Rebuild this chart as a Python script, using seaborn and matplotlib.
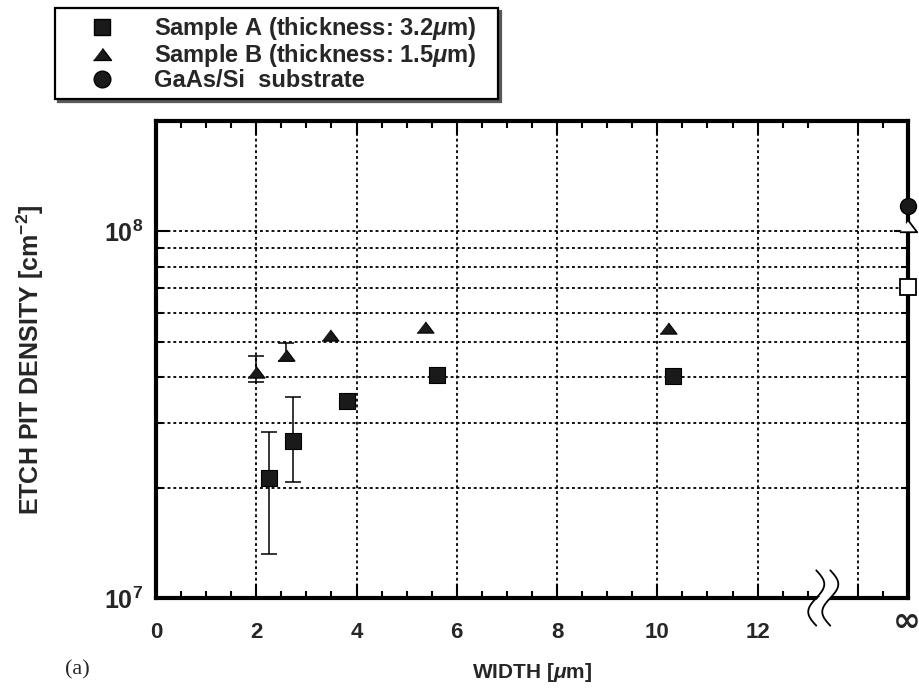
import numpy as np
import pandas as pd
import matplotlib
matplotlib.use("Agg")
import matplotlib.pyplot as plt
import matplotlib.ticker as mticker
from matplotlib.lines import Line2D
import matplotlib.transforms as mtransforms
import seaborn as sns

# ---- data -------------------------------------------------------------
width_a = [2.25, 2.73, 3.80, 5.60, 10.32]          # Sample A stripe width [um]
density_a = [2.13e7, 2.68e7, 3.44e7, 4.07e7, 4.04e7]
err_a_width = [2.25, 2.73]
err_a_center = [2.13e7, 2.68e7]
err_a_low = [1.32e7, 2.07e7]
err_a_high = [2.84e7, 3.53e7]

width_b = [2.00, 2.59, 3.47, 5.37, 10.21]          # Sample B stripe width [um]
density_b = [4.13e7, 4.60e7, 5.21e7, 5.47e7, 5.44e7]
err_b_width = [2.00, 2.59]
err_b_center = [4.13e7, 4.60e7]
err_b_low = [3.88e7, 4.42e7]
err_b_high = [4.56e7, 4.96e7]

inf_pos = 15.0                                      # position standing for infinite width
inf_substrate = 1.17e8                              # GaAs/Si substrate
inf_b = 1.035e8                                     # Sample B, unpatterned
inf_a = 7.06e7                                      # Sample A, unpatterned

x_major = [0, 2, 4, 6, 8, 10, 12]
x_labels = ["0", "2", "4", "6", "8", "10", "12"]
x_grid = [2, 4, 6, 8, 10, 12, 14]

# ---- style ------------------------------------------------------------
sns.set_theme(style="ticks")
plt.rcParams["font.family"] = ["Liberation Sans", "DejaVu Sans"]
plt.rcParams["font.weight"] = "bold"
plt.rcParams["mathtext.fontset"] = "custom"
plt.rcParams["mathtext.rm"] = "Liberation Sans:bold"
plt.rcParams["mathtext.bf"] = "Liberation Sans:bold"
plt.rcParams["mathtext.it"] = "Liberation Sans:bold:italic"

fig = plt.figure(figsize=(9.2, 6.9), dpi=100)
ax = fig.add_axes([156 / 920, 1 - 598 / 690, (908 - 156) / 920, (598 - 121) / 690])

ax.set_yscale("log")
ax.set_xlim(0, 15)
ax.set_ylim(1e7, 2e8)

# grid: dotted, drawn below the marks
grid_kw = dict(color="black", lw=1.3, ls=(0, (1.6, 1.6)), zorder=1)
for gx in x_grid:
    ax.axvline(gx, **grid_kw)
for gy in [2e7, 3e7, 4e7, 5e7, 6e7, 7e7, 8e7, 9e7, 1e8]:
    ax.axhline(gy, **grid_kw)

# error bars
ax.errorbar(err_a_width, err_a_center,
            yerr=[np.subtract(err_a_center, err_a_low), np.subtract(err_a_high, err_a_center)],
            fmt="none", ecolor="black", elinewidth=1.1, capsize=6, capthick=1.1, zorder=3)
ax.errorbar(err_b_width, err_b_center,
            yerr=[np.subtract(err_b_center, err_b_low), np.subtract(err_b_high, err_b_center)],
            fmt="none", ecolor="black", elinewidth=1.1, capsize=6, capthick=1.1, zorder=3)

tri = [(-1.0, -0.66), (1.0, -0.66), (0.0, 0.66)]

df_a = pd.DataFrame({"width": width_a, "density": density_a})
df_b = pd.DataFrame({"width": width_b, "density": density_b})
sns.scatterplot(data=df_a, x="width", y="density", marker="s", s=140,
                color="#1a1a1a", edgecolor="black", linewidth=0.8, ax=ax, zorder=4)
sns.scatterplot(data=df_b, x="width", y="density", marker=tri, s=150,
                color="#1a1a1a", edgecolor="black", linewidth=0.8, ax=ax, zorder=4)

# unpatterned values on the "infinite width" edge
ax.plot([inf_pos], [inf_substrate], marker="o", ms=11.5, mfc="#1a1a1a", mec="black",
        ls="none", clip_on=False, zorder=6)
ax.plot([inf_pos], [inf_b], marker=tri, ms=12.5, mfc="white", mec="black", mew=1.3,
        ls="none", clip_on=False, zorder=6)
ax.plot([inf_pos], [inf_a], marker="s", ms=12, mfc="white", mec="black", mew=1.3,
        ls="none", clip_on=False, zorder=6)

# ---- axes, ticks ------------------------------------------------------
for sp in ax.spines.values():
    sp.set_linewidth(3.0)
    sp.set_color("black")

ax.set_xticks(x_major + [14, inf_pos])
ax.set_xticklabels(x_labels + ["", ""])
minor_x = [v for v in np.arange(0.5, 15, 0.5) if v not in x_major + [14, 13.5]]
ax.xaxis.set_minor_locator(mticker.FixedLocator(minor_x))
ax.yaxis.set_major_locator(mticker.FixedLocator([1e7, 1e8]))
ax.yaxis.set_major_formatter(mticker.FuncFormatter(
    lambda v, p: r"$10^{%d}$" % int(round(np.log10(v)))))
ax.yaxis.set_minor_locator(mticker.FixedLocator([2e7, 3e7, 4e7, 5e7, 6e7, 7e7, 8e7, 9e7, 2e8]))
ax.yaxis.set_minor_formatter(mticker.NullFormatter())

ax.tick_params(axis="both", which="both", direction="in", top=True, right=True,
               color="black", width=1.5)
ax.tick_params(axis="both", which="major", length=10)
ax.tick_params(axis="both", which="minor", length=5)
ax.tick_params(axis="x", which="major", pad=17, labelsize=16)
ax.tick_params(axis="y", which="major", pad=9, labelsize=18)

trans = mtransforms.blended_transform_factory(ax.transData, ax.transAxes)
ax.text(14.97, -0.05, "\u221e", transform=trans, ha="center", va="center",
        fontsize=24, fontweight="bold", family=["DejaVu Sans"], clip_on=False)

ax.set_xlabel(r"WIDTH [$\mu$m]", fontsize=15, fontweight="bold", labelpad=13)
ax.set_ylabel(r"ETCH PIT DENSITY [cm$^{-2}$]", fontsize=18, fontweight="bold", labelpad=42)

# axis break symbol between 12 and infinity
s = np.linspace(-1, 1, 60)
ys = s * 0.058
for xc in (13.17, 13.45):
    xs = xc + 0.16 * np.sin(np.pi * s)
    ax.plot(xs, ys, color="black", lw=1.3, transform=trans, clip_on=False, zorder=8)
s_in = np.linspace(-0.5, 0.5, 30)
ax.fill_betweenx(s_in * 0.058,
                 13.17 + 0.16 * np.sin(np.pi * s_in) + 0.02,
                 13.45 + 0.16 * np.sin(np.pi * s_in) - 0.02,
                 color="white", transform=trans, clip_on=False, zorder=7, lw=0)

# ---- legend -----------------------------------------------------------
handles = [
    Line2D([], [], marker="s", ls="none", ms=12, mfc="#1a1a1a", mec="black"),
    Line2D([], [], marker=tri, ls="none", ms=13, mfc="#1a1a1a", mec="black"),
    Line2D([], [], marker="o", ls="none", ms=12, mfc="#1a1a1a", mec="black"),
]
labels = [r"Sample A (thickness: 3.2$\mu$m)",
          r"Sample B (thickness: 1.5$\mu$m)",
          "GaAs/Si  substrate"]
leg = fig.legend(handles, labels, loc="upper left", mode="expand",
                 bbox_to_anchor=(55 / 920, 1 - 97 / 690, (498 - 55) / 920, 89 / 690),
                 bbox_transform=fig.transFigure,
                 prop={"family": "Liberation Sans", "weight": "bold", "size": 17},
                 frameon=True, fancybox=False, shadow={"color": "0.35", "alpha": 1.0},
                 handlelength=3.4, handletextpad=0.5, labelspacing=0.0,
                 borderpad=0.3, borderaxespad=0.0)
leg.get_frame().set_edgecolor("black")
leg.get_frame().set_linewidth(1.6)

fig.text(65 / 920, 1 - 670 / 690, "(a)", fontsize=16, family="Liberation Serif",
         fontweight="normal", va="center", ha="left")

fig.savefig("out.png", dpi=100)
